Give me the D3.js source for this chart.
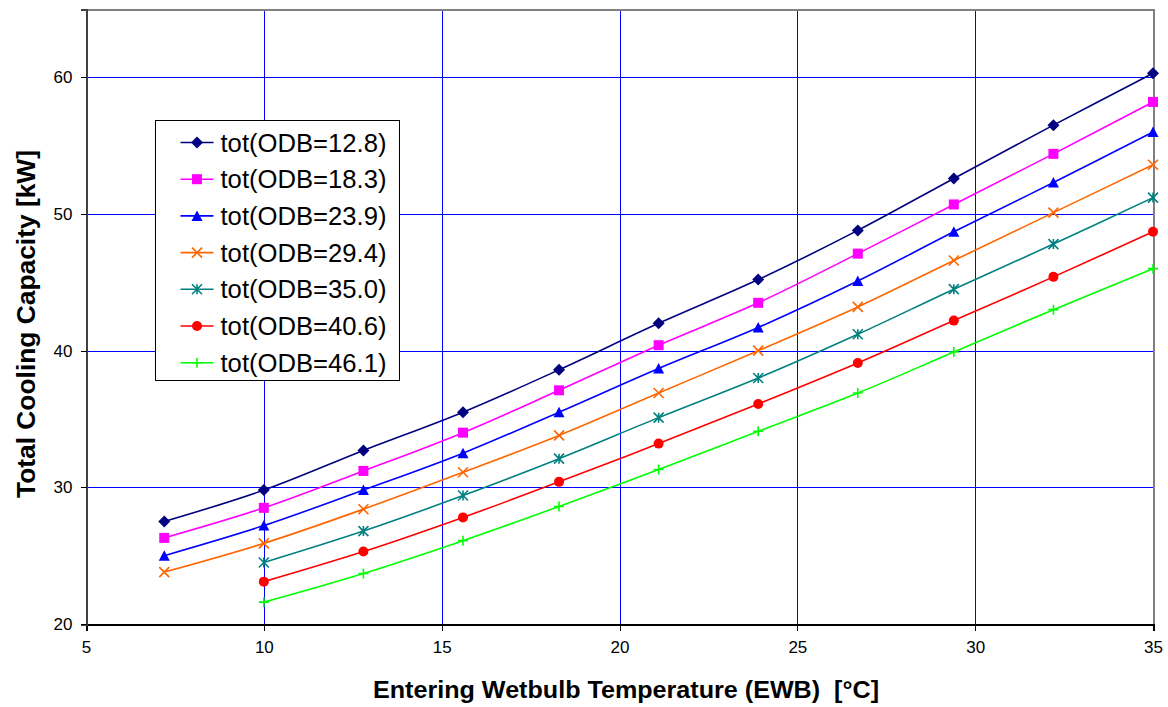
<!DOCTYPE html>
<html>
<head>
<meta charset="utf-8">
<script src="https://cdn.jsdelivr.net/npm/d3@7"></script>
<style>
  html, body { margin: 0; padding: 0; background: #fff; }
  svg { display: block; font-family: "Liberation Sans", Arial, sans-serif; }
</style>
</head>
<body>
<svg id="chart" width="1168" height="707"></svg>
<script>
// Entering wetbulb temperatures (°C)
const ewb = [7.2, 10.0, 12.8, 15.6, 18.3, 21.1, 23.9, 26.7, 29.4, 32.2, 35.0];

// Outdoor dry-bulb temperatures for each curve
const odbLabels = ["tot(ODB=12.8)", "tot(ODB=18.3)", "tot(ODB=23.9)", "tot(ODB=29.4)",
                   "tot(ODB=35.0)", "tot(ODB=40.6)", "tot(ODB=46.1)"];

// Total cooling capacity [kW] per curve (null = not rated)
const tot128 = [27.5, 29.8, 32.7, 35.5, 38.6, 42.0, 45.2, 48.8, 52.6, 56.5, 60.3];
const tot183 = [26.3, 28.5, 31.2, 34.0, 37.1, 40.4, 43.5, 47.1, 50.7, 54.4, 58.2];
const tot239 = [25.0, 27.2, 29.8, 32.5, 35.5, 38.7, 41.7, 45.1, 48.7, 52.3, 56.0];
const tot294 = [23.8, 25.9, 28.4, 31.1, 33.8, 36.9, 40.0, 43.2, 46.6, 50.1, 53.6];
const tot350 = [null, 24.5, 26.8, 29.4, 32.1, 35.1, 38.0, 41.2, 44.5, 47.8, 51.2];
const tot406 = [null, 23.1, 25.3, 27.8, 30.4, 33.2, 36.1, 39.1, 42.2, 45.4, 48.7];
const tot461 = [null, 21.6, 23.7, 26.1, 28.6, 31.3, 34.1, 36.9, 39.9, 43.0, 46.0];

const xTicks = [5, 10, 15, 20, 25, 30, 35];
const yTicks = [20, 30, 40, 50, 60];

const seriesValues = [tot128, tot183, tot239, tot294, tot350, tot406, tot461];
const colors = ["#000080", "#ff00ff", "#0000ff", "#ff6600", "#008080", "#ff0000", "#00ff00"];
const markers = ["diamond", "square", "triangle", "x", "asterisk", "circle", "plus"];

const series = seriesValues.map((vals, i) => ({
  name: odbLabels[i],
  color: colors[i],
  marker: markers[i],
  points: vals.map((v, j) => ({ x: ewb[j], y: v })).filter(p => p.y !== null)
}));

const svg = d3.select("#chart");
const plotL = 86, plotR = 1153, plotT = 9, plotB = 624;

const x = d3.scaleLinear().domain([5, 35]).range([plotL, plotR]);
const y = d3.scaleLinear().domain([20, 65]).range([plotB, plotT]);

// Grid lines
const grid = svg.append("g").attr("shape-rendering", "crispEdges");
grid.selectAll("line.vx").data(xTicks.filter(t => t > 5 && t < 35)).join("line")
  .attr("x1", d => Math.round(x(d)) + 0.5).attr("x2", d => Math.round(x(d)) + 0.5)
  .attr("y1", plotT).attr("y2", plotB)
  .attr("stroke", "#0000ff").attr("stroke-width", 1);
grid.selectAll("line.hy").data(yTicks.filter(t => t > 20)).join("line")
  .attr("x1", plotL).attr("x2", plotR)
  .attr("y1", d => Math.round(y(d)) + 0.5).attr("y2", d => Math.round(y(d)) + 0.5)
  .attr("stroke", "#0000ff").attr("stroke-width", 1);

// Plot frame (top and right)
grid.append("line").attr("x1", plotL).attr("x2", plotR + 1)
  .attr("y1", plotT + 0.5).attr("y2", plotT + 0.5).attr("stroke", "#808080").attr("stroke-width", 2);
grid.append("line").attr("x1", plotR + 0.5).attr("x2", plotR + 0.5)
  .attr("y1", plotT).attr("y2", plotB).attr("stroke", "#808080").attr("stroke-width", 2);

// Axes
const xAxis = d3.axisBottom(x).tickValues(xTicks).tickSize(6).tickPadding(10).tickFormat(d3.format("d"));
const yAxis = d3.axisLeft(y).tickValues(yTicks).tickSize(6).tickPadding(8).tickFormat(d3.format("d"));

const gx = svg.append("g").attr("transform", `translate(0,${Math.round(plotB) + 0.5})`).call(xAxis);
const gy = svg.append("g").attr("transform", `translate(${plotL + 0.5},0)`).call(yAxis);
[gx, gy].forEach(g => {
  g.select(".domain").attr("stroke", "#000").attr("stroke-width", 2).attr("shape-rendering", "crispEdges");
  g.selectAll(".tick line").attr("stroke", "#000").attr("shape-rendering", "crispEdges");
  g.selectAll(".tick text").attr("font-size", 17).attr("fill", "#000")
    .attr("font-family", "'Liberation Sans', Arial, sans-serif");
});
gy.select(".domain").attr("stroke", "#404040");

// Axis titles
svg.append("text")
  .attr("x", 626).attr("y", 698)
  .attr("text-anchor", "middle")
  .attr("font-size", 24).attr("font-weight", "bold")
  .attr("textLength", 506).attr("lengthAdjust", "spacingAndGlyphs")
  .style("white-space", "pre")
  .text("Entering Wetbulb Temperature (EWB)  [°C]");

svg.append("text")
  .attr("transform", `translate(35,324) rotate(-90)`)
  .attr("text-anchor", "middle")
  .attr("font-size", 26).attr("font-weight", "bold")
  .attr("textLength", 348).attr("lengthAdjust", "spacingAndGlyphs")
  .text("Total Cooling Capacity [kW]");

// Marker shapes
function drawMarker(g, type, color) {
  const s = 5;
  switch (type) {
    case "diamond":
      g.append("path").attr("d", `M0,${-s - 1}L${s + 1},0L0,${s + 1}L${-s - 1},0Z`).attr("fill", color);
      break;
    case "square":
      g.append("rect").attr("x", -s).attr("y", -s).attr("width", 2 * s).attr("height", 2 * s).attr("fill", color);
      break;
    case "triangle":
      g.append("path").attr("d", `M0,${-s - 0.5}L${s + 0.5},${s}L${-s - 0.5},${s}Z`).attr("fill", color);
      break;
    case "circle":
      g.append("circle").attr("r", s).attr("fill", color);
      break;
    case "x":
      g.append("path").attr("d", `M${-s},${-s}L${s},${s}M${-s},${s}L${s},${-s}`)
        .attr("stroke", color).attr("stroke-width", 1.6).attr("fill", "none");
      break;
    case "asterisk":
      g.append("path").attr("d", `M${-s},${-s}L${s},${s}M${-s},${s}L${s},${-s}M0,${-s}L0,${s}`)
        .attr("stroke", color).attr("stroke-width", 1.6).attr("fill", "none");
      break;
    case "plus":
      g.append("path").attr("d", `M${-s},0L${s},0M0,${-s}L0,${s}`)
        .attr("stroke", color).attr("stroke-width", 1.6).attr("fill", "none");
      break;
  }
}

// Curves
const line = d3.line().x(d => x(d.x)).y(d => y(d.y)).curve(d3.curveCatmullRom.alpha(0.5));
const sg = svg.append("g");
series.forEach(s => {
  sg.append("path").datum(s.points).attr("d", line)
    .attr("fill", "none").attr("stroke", s.color).attr("stroke-width", 1.6);
  s.points.forEach(p => {
    const m = sg.append("g").attr("transform", `translate(${x(p.x)},${y(p.y)})`);
    drawMarker(m, s.marker, s.color);
  });
});

// Legend
const lg = svg.append("g").attr("transform", "translate(155.5,120.5)");
lg.append("rect").attr("width", 244).attr("height", 260)
  .attr("fill", "#fff").attr("stroke", "#000").attr("stroke-width", 1);
series.forEach((s, i) => {
  const cy = 22 + i * 36.7;
  const row = lg.append("g").attr("transform", `translate(0,${cy})`);
  row.append("line").attr("x1", 25).attr("x2", 58).attr("y1", 0).attr("y2", 0)
    .attr("stroke", s.color).attr("stroke-width", 1.6);
  const m = row.append("g").attr("transform", "translate(41.5,0)");
  drawMarker(m, s.marker, s.color);
  row.append("text").attr("x", 65).attr("y", 9)
    .attr("font-size", 25).attr("textLength", 166).attr("lengthAdjust", "spacingAndGlyphs")
    .attr("fill", "#000").text(s.name);
});
</script>
</body>
</html>
